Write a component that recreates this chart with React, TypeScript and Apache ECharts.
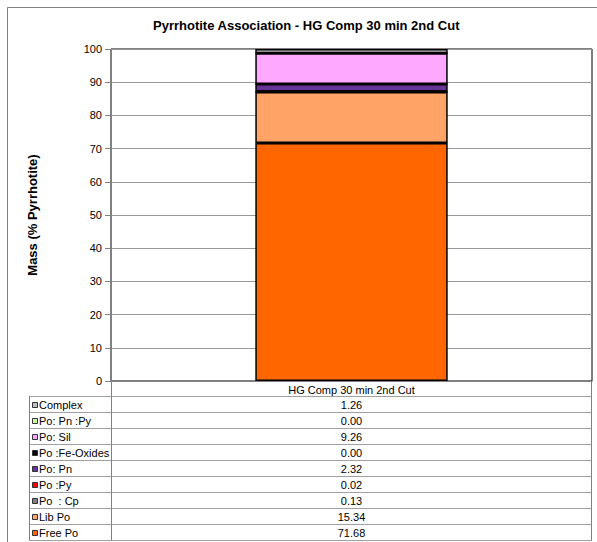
import React, { useEffect, useRef } from "react";
import * as echarts from "echarts";

const categories = ["HG Comp 30 min 2nd Cut"];
const seriesNames = [
  "Free Po",
  "Lib Po",
  "Po  : Cp",
  "Po :Py",
  "Po: Pn",
  "Po :Fe-Oxides",
  "Po: Sil",
  "Po: Pn :Py",
  "Complex",
];
const seriesValues = [71.68, 15.34, 0.13, 0.02, 2.32, 0.0, 9.26, 0.0, 1.26];
const seriesColors = [
  "#FF6600",
  "#FFA366",
  "#808080",
  "#FF0000",
  "#663399",
  "#000000",
  "#FFA8FF",
  "#CCFF99",
  "#C0C0C0",
];
const yMin = 0;
const yMax = 100;
const yInterval = 10;

const FONT = "Arial, 'Liberation Sans', sans-serif";

export default function App() {
  const ref = useRef<HTMLDivElement>(null);
  useEffect(() => {
    if (!ref.current) return;
    const chart = echarts.init(ref.current, null, { renderer: "svg" });
    const gridLeft = 111;
    const gridTop = 49;
    const gridW = 481;
    const gridH = 332;
    chart.setOption({
      animation: false,
      backgroundColor: "#ffffff",
      title: {
        text: "Pyrrhotite Association - HG Comp 30 min 2nd Cut",
        left: 153,
        top: 19,
        padding: 0,
        textStyle: { fontFamily: FONT, fontSize: 13, fontWeight: "bold", color: "#000" },
      },
      grid: {
        left: gridLeft,
        top: gridTop,
        width: gridW,
        height: gridH,
        show: true,
        borderColor: "#000",
        borderWidth: 1,
        backgroundColor: "transparent",
      },
      xAxis: {
        type: "category",
        data: categories,
        axisLine: { lineStyle: { color: "#808080", width: 1 } },
        axisTick: { show: false },
        axisLabel: { fontFamily: FONT, fontSize: 11, color: "#000", margin: 3 },
      },
      yAxis: {
        type: "value",
        min: yMin,
        max: yMax,
        interval: yInterval,
        name: "Mass (% Pyrrhotite)",
        nameLocation: "middle",
        nameGap: 72,
        nameTextStyle: { fontFamily: FONT, fontSize: 13, fontWeight: "bold", color: "#000" },
        axisLine: { show: true, lineStyle: { color: "#808080", width: 1 } },
        axisTick: { show: true, length: 6, lineStyle: { color: "#808080" } },
        axisLabel: { fontFamily: FONT, fontSize: 11, color: "#000", margin: 9 },
        splitLine: { lineStyle: { color: "#999999", width: 1 } },
      },
      series: seriesNames.map((name, i) => ({
        name,
        type: "bar",
        stack: "total",
        barWidth: "40%",
        data: [seriesValues[i]],
        itemStyle: { color: seriesColors[i], borderColor: "#000", borderWidth: 1.5 },
      })),
    });

    const cx = chart.convertToPixel({ xAxisIndex: 0 }, categories[0]) as number;
    const y0 = chart.convertToPixel({ yAxisIndex: 0 }, 0) as number;
    const right = gridLeft + gridW;
    const tableLeft = 29;
    const headerBottom = y0 + 15;
    const rowH = 16;
    const rows = [...seriesNames].reverse();
    const vals = [...seriesValues].reverse();
    const cols = [...seriesColors].reverse();
    const nRows = rows.length;
    const tableBottom = headerBottom + nRows * rowH;
    const elements: any[] = [];
    // outer frame
    elements.push({
      type: "rect",
      shape: { x: 7.5, y: 7.5, width: 620, height: 620 },
      style: { fill: "none", stroke: "#808080", lineWidth: 1 },
      silent: true,
    });
    // horizontal lines
    for (let k = 0; k <= nRows; k++) {
      const y = Math.round(headerBottom + k * rowH) + 0.5;
      elements.push({
        type: "line",
        shape: { x1: tableLeft, y1: y, x2: right, y2: y },
        style: { stroke: "#a0a0a0", lineWidth: 1 },
        silent: true,
      });
    }
    // vertical lines
    const vlines = [
      [tableLeft + 0.5, headerBottom, tableBottom],
      [gridLeft + 0.5, y0, tableBottom],
      [right - 0.5, y0, tableBottom],
    ];
    vlines.forEach(([x, a, b]) =>
      elements.push({
        type: "line",
        shape: { x1: x, y1: a, x2: x, y2: b },
        style: { stroke: "#808080", lineWidth: 1 },
        silent: true,
      })
    );
    rows.forEach((name, k) => {
      const cy = headerBottom + k * rowH + rowH / 2 + 0.5;
      elements.push({
        type: "rect",
        shape: { x: 32.5, y: Math.round(cy - 3) + 0.5, width: 5, height: 5 },
        style: { fill: cols[k], stroke: "#333", lineWidth: 1 },
        silent: true,
      });
      elements.push({
        type: "text",
        x: 39,
        y: cy,
        style: {
          text: name,
          fontFamily: FONT,
          fontSize: 11,
          fill: "#000",
          textAlign: "left",
          textVerticalAlign: "middle",
        },
        silent: true,
      });
      elements.push({
        type: "text",
        x: cx,
        y: cy,
        style: {
          text: vals[k].toFixed(2),
          fontFamily: FONT,
          fontSize: 11,
          fill: "#000",
          textAlign: "center",
          textVerticalAlign: "middle",
        },
        silent: true,
      });
    });
    chart.setOption({ graphic: { elements } });
    return () => chart.dispose();
  }, []);
  return (
    <div
      ref={ref}
      style={{ position: "absolute", left: 0, top: 0, width: 597, height: 542, background: "#fff" }}
    />
  );
}
